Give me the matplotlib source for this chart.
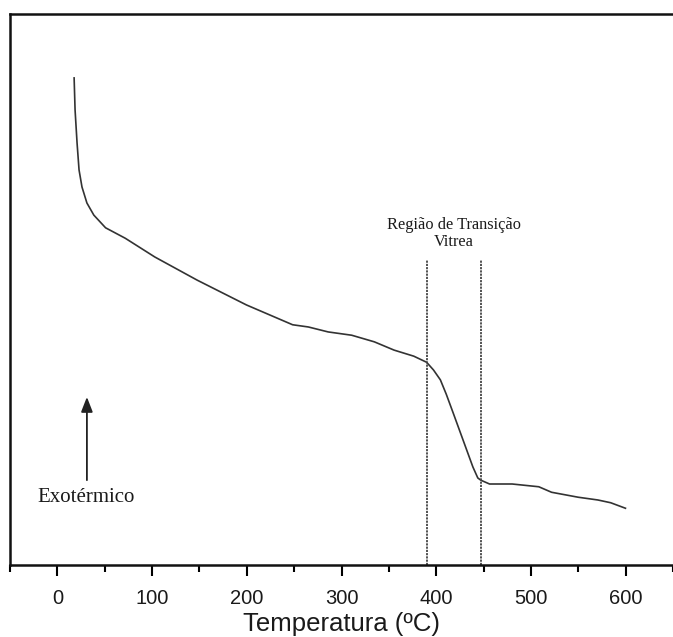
import matplotlib
matplotlib.use("Agg")
import matplotlib.pyplot as plt

# Data (arbitrary heat-flow units)
temperature = [17.7, 18.7, 20.8, 22.9, 26.0, 31.2, 38.5, 50.9, 71.7, 102.9, 147.6,
               199.6, 248.4, 265.0, 285.9, 310.8, 334.7, 355.5, 376.3, 389.8, 397.1,
               404.4, 410.6, 417.9, 428.3, 438.7, 443.9, 447.0, 456.3, 480.2, 508.3,
               521.8, 549.9, 570.7, 584.2, 599.8]
heat_flow = [88.4, 82.6, 76.6, 71.7, 68.6, 65.7, 63.5, 61.2, 59.3, 55.9, 51.7,
             47.2, 43.6, 43.2, 42.3, 41.7, 40.5, 39.0, 37.9, 36.8, 35.4,
             33.6, 31.0, 27.6, 22.7, 17.8, 15.8, 15.4, 14.7, 14.7, 14.2,
             13.2, 12.3, 11.8, 11.3, 10.3]
transition_bounds = [390, 447]
xticks = [0, 100, 200, 300, 400, 500, 600]

W, H = 673, 637
fig = plt.figure(figsize=(W / 100, H / 100), dpi=100)
ax = fig.add_axes([10 / W, (H - 565) / H, (W - 10) / W, 551 / H])

ax.plot(temperature, heat_flow, color="#333333", lw=1.2)

for xb in transition_bounds:
    ax.plot([xb, xb], [0, 55.4], color="#444444", lw=1.3, linestyle=(0, (1.2, 0.6)))

ax.text(419, 60.2, "Região de Transição\nVitrea", ha="center", va="center",
        family="Liberation Serif", fontsize=11.8, linespacing=1.05, color="#1a1a1a")

ax.annotate("", xy=(31.2, 30.5), xytext=(31.2, 15.4),
            arrowprops=dict(arrowstyle="-|>,head_length=0.9,head_width=0.35",
                            color="#222222", lw=1.3, shrinkA=0, shrinkB=0))
ax.text(30.1, 12.3, "Exotérmico", ha="center", va="center",
        family="Liberation Serif", fontsize=15, color="#1a1a1a")

ax.set_xlim(-50, 639.3)
ax.set_ylim(0, 100)
ax.set_xticks(xticks)
ax.set_xticks([x + 50 for x in [-100] + xticks[:-1]] + [650], minor=True)
ax.set_yticks([])
ax.tick_params(axis="x", which="major", direction="out", length=8, width=1.5,
               labelsize=14.5, pad=9, labelcolor="#1a1a1a")
ax.tick_params(axis="x", which="minor", direction="out", length=5, width=1.5)
for lbl in ax.get_xticklabels():
    lbl.set_family("Liberation Sans")
ax.set_xlabel("Temperatura (ºC)", family="Liberation Sans", fontsize=18.5,
              labelpad=3, color="#1a1a1a")

for s in ["left", "bottom", "top"]:
    ax.spines[s].set_linewidth(1.8)
    ax.spines[s].set_color("#111111")
ax.spines["right"].set_visible(False)

fig.savefig("out.png", dpi=100)
